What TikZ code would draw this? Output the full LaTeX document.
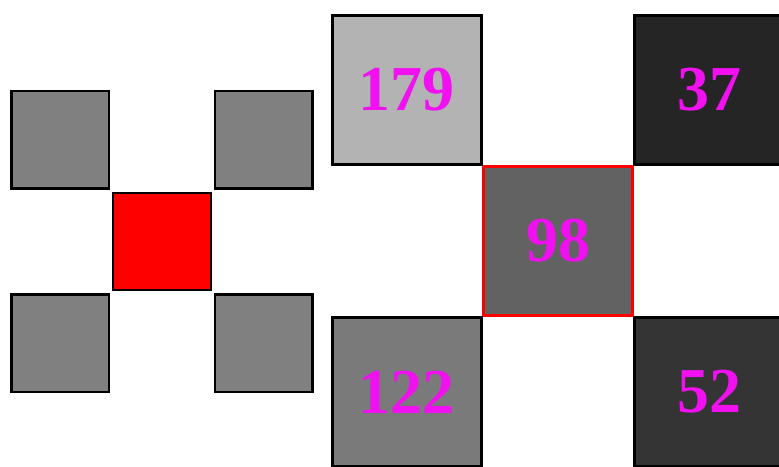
\documentclass[tikz,border=0pt]{standalone}
\usepackage{fontspec}
\setmainfont{Liberation Serif}
\usetikzlibrary{positioning}

\definecolor{pixmag}{RGB}{240,16,240}
\definecolor{gmask}{RGB}{128,128,128}
\definecolor{g179}{RGB}{179,179,179}
\definecolor{g37}{RGB}{37,37,37}
\definecolor{g98}{RGB}{98,98,98}
\definecolor{g122}{RGB}{122,122,122}
\definecolor{g52}{RGB}{52,52,52}

\begin{document}
\begin{tikzpicture}[
  x=1pt, y=-1pt,
  cell/.style={draw, line width=2.4pt, minimum size=97.5pt, inner sep=0pt, fill=gmask},
  bigcell/.style={draw, line width=2.6pt, minimum size=149pt, inner sep=0pt,
    text=pixmag, font=\bfseries\fontsize{64}{64}\selectfont}
]
  \clip (0,0) rectangle (779,466);
  % diagonal neighbourhood mask
  \node[cell, fill=red] (mask) at (162,241.5) {};
  \begin{scope}[node distance=2pt and 2pt]
    \node[cell, above left=of mask] (maskNW) {};
    \node[cell, above right=of mask] (maskNE) {};
    \node[cell, below left=of mask] (maskSW) {};
    \node[cell, below right=of mask] (maskSE) {};
  \end{scope}
  % grey values under the mask
  \node[bigcell, fill=g98, draw=red] (pix) at (558,241) {98};
  \begin{scope}[node distance=-0.5pt and -0.5pt]
    \node[bigcell, fill=g179, above left=of pix] (pixNW) {179};
    \node[bigcell, fill=g37, above right=of pix] (pixNE) {37};
    \node[bigcell, fill=g122, below left=of pix] (pixSW) {122};
    \node[bigcell, fill=g52, below right=of pix] (pixSE) {52};
  \end{scope}
\end{tikzpicture}
\end{document}
